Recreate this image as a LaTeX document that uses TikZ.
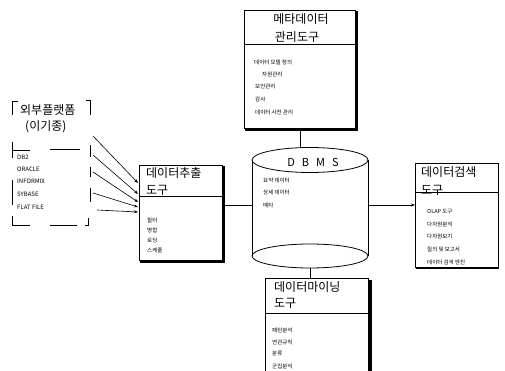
\documentclass[tikz,border=0pt]{standalone}
\usepackage{fontspec}
\setmainfont{Noto Sans CJK KR}
\usetikzlibrary{arrows.meta,shapes.geometric}
\tikzset{
  panel/.style={draw=black, line width=0.8pt, fill=white},
  heavy/.style={draw=black, line width=3pt},
  ttl/.style={font=\fontsize{12}{13}\selectfont, anchor=west, inner sep=0pt},
  itm/.style={font=\fontsize{5.5}{6}\selectfont, anchor=west, inner sep=0pt},
  src/.style={font=\fontsize{6}{7}\selectfont, anchor=west, inner sep=0pt},
  broken/.style={draw=black, line width=0.9pt},
  conn/.style={draw=black, line width=0.6pt},
  feed/.style={draw=black, line width=0.6pt, -{Stealth[length=4pt,width=3pt]}},
}
\begin{document}
\begin{tikzpicture}[x=1pt,y=-1pt]
\useasboundingbox (0,0) rectangle (505,371);

% external platforms: frame drawn as broken strokes
\draw[broken] (12,115) -- (12,101) -- (18,101);
\draw[broken] (86,100) -- (90,100) -- (90,115);
\draw[broken] (12,142) -- (12,158);
\draw[broken] (12,150) -- (30,150);
\draw[broken] (50,149) -- (80,149);
\draw[broken] (12,180) -- (12,205);
\draw[broken] (12,216) -- (12,225) -- (30,225);
\draw[broken] (50,225) -- (77,225);
\draw[broken] (88,218) -- (88,225) -- (85,225);
\draw[broken] (90,145) -- (90,157);
\draw[broken] (90,167) -- (90,177);
\draw[broken] (90,188) -- (90,202);
\node[ttl] (extA) at (20,110) {외부플랫폼};
\node[ttl] (extB) at (25,127) {(이기종)};
\node[src] (db1) at (17,157) {DB2};
\node[src] (db2) at (17,169) {ORACLE};
\node[src] (db3) at (17,181) {INFORMIX};
\node[src] (db4) at (17,194) {SYBASE};
\node[src] (db5) at (17,207) {FLAT FILE};
\coordinate (s1) at (93,136);
\coordinate (s2) at (93,155);
\coordinate (s3) at (93,172);
\coordinate (s4) at (93,193);
\coordinate (s5) at (97,210);

% extraction tool
\draw[panel] (139,165) rectangle (222,260);
\draw[heavy] (223,166) -- (223,261.5) -- (140,261.5);
\draw[line width=1pt] (139,197) -- (222,197);
\node[ttl] (exT) at (146,173) {데이터추출};
\node[ttl] (exU) at (146,190) {도구};
\node[itm] at (147,220) {필터};
\node[itm] at (147,230) {병합};
\node[itm] at (147,240) {로딩};
\node[itm] at (147,250) {스케줄};
\coordinate (e1) at (138,183);
\coordinate (e2) at (138,194);
\coordinate (e3) at (138,202);
\coordinate (e4) at (138,207);
\coordinate (e5) at (138,212);
\foreach \i in {1,...,5} \draw[feed] (s\i) -- (e\i);

% metadata management tool
\draw[panel] (244,10) rectangle (355,128);
\draw[heavy] (356,11) -- (356,130) -- (245,130);
\draw[line width=1pt] (244,45) -- (355,45);
\node[ttl, anchor=center] (mT) at (301,19) {메타데이터};
\node[ttl, anchor=center] (mU) at (297,37) {관리도구};
\node[itm] at (254,62) {데이터 모델 정의};
\node[itm] at (262,74) {자원관리};
\node[itm] at (255,86) {보안관리};
\node[itm] at (255,99) {감사};
\node[itm] at (255,112) {데이터 사전 관리};

% DBMS cylinder
\fill[white] (252,160) -- (252,256) arc[start angle=180,end angle=360,x radius=58,y radius=12] -- (368,160) -- cycle;
\draw[line width=0.8pt] (252,160) -- (252,256);
\draw[line width=0.8pt] (368,160) -- (368,256);
\draw[line width=0.8pt] (310,256) ellipse[x radius=58,y radius=12];
\draw[line width=0.8pt, fill=white] (310,160) ellipse[x radius=58,y radius=12.5];
\node[font=\fontsize{11}{12}\selectfont, inner sep=0pt] (dbms) at (313,162) {D\hspace{7pt}B\hspace{7pt}M\hspace{7pt}S};
\node[itm] at (263,180) {요약 데이터};
\node[itm] at (263,192) {상세 데이터};
\node[itm] at (263,205) {메타};
\coordinate (cylL) at (252,205);
\coordinate (cylR) at (368,205);
\coordinate (cylT) at (300,148);
\coordinate (cylB) at (310,268);

% data search tool
\draw[panel] (415,163) rectangle (498,267);
\draw[line width=1.8pt] (498.5,164) -- (498.5,268) -- (416,268);
\draw[line width=1pt] (415,193) -- (498,193);
\node[ttl] (sT) at (421,172) {데이터검색};
\node[ttl] (sU) at (421,190) {도구};
\node[itm] at (427,212) {OLAP 도구};
\node[itm] at (427,224) {다차원분석};
\node[itm] at (427,236) {다차원보기};
\node[itm] at (427,249) {질의 및 보고서};
\node[itm] at (427,262) {데이터 검색 엔진};

% data mining tool
\draw[panel] (265,278) rectangle (368,375);
\draw[heavy] (370,280) -- (370,375);
\draw[line width=1pt] (265,313) -- (368,313);
\node[ttl] (dT) at (274,287) {데이터마이닝};
\node[ttl] (dU) at (274,303) {도구};
\node[itm] at (272,330) {패턴분석};
\node[itm] at (272,342) {연관규칙};
\node[itm] at (272,354) {분류};
\node[itm] at (272,366) {군집분석};

% connectors
\draw[conn] (222,205) -- (cylL);
\draw[conn] (300,130) -- (cylT);
\draw[feed] (cylR) -- (415,205);
\draw[conn] (cylB) -- (310,278);
\end{tikzpicture}
\end{document}
